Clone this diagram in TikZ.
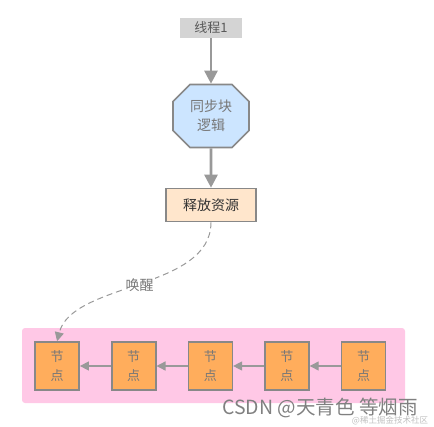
\documentclass[tikz,border=0pt]{standalone}
\usepackage{fontspec}
\setmainfont{Noto Sans CJK SC}
\usetikzlibrary{positioning, shapes.misc, arrows.meta}
\definecolor{lgray}{HTML}{999999}
\definecolor{bgray}{HTML}{888888}
\definecolor{tgray}{HTML}{777777}
\definecolor{thfill}{HTML}{D4D4D4}
\definecolor{synfill}{HTML}{CCE5FF}
\definecolor{relfill}{HTML}{FFE6CC}
\definecolor{knotfill}{HTML}{FFAD5C}
\definecolor{pinkbg}{HTML}{FFC8E6}

\begin{document}
\begin{tikzpicture}[x=1pt, y=-1pt,
     node distance = 31pt and 31pt,
        box/.style = {rectangle, draw=bgray, line width=1.6pt, fill=#1,
                     minimum width=90pt, minimum height=33pt, text=black!80,
                     font=\fontsize{14}{16}\selectfont},
       knot/.style = {rectangle, draw=bgray, line width=1.6pt, fill=knotfill,
                     minimum width=44pt, minimum height=48pt, align=center, inner sep=0pt,
                     text=tgray, font=\fontsize{13}{19}\selectfont},
       flow/.style = {draw=lgray, line width=2.6pt, -{Triangle[length=13pt,width=13pt]}},
       link/.style = {draw=lgray, line width=1.3pt, -{Triangle[length=9pt,width=9pt]}}
                        ]
\useasboundingbox (0,0) rectangle (434,426);
% background
\fill[pinkbg, rounded corners=3pt] (22,328) rectangle (405,403);
\node (thread) [rectangle, fill=thfill, minimum width=62pt, minimum height=20pt, inner sep=0pt,
                text=black!65, font=\fontsize{13}{15}\selectfont] at (211,28) {线程1};
\node (sync) [chamfered rectangle, chamfered rectangle xsep=10pt, chamfered rectangle ysep=7pt,
              draw=bgray, line width=1.6pt, fill=synfill, minimum width=76pt, minimum height=63pt,
              inner sep=0pt, align=center, text=tgray, font=\fontsize{14}{19}\selectfont]
              at (211,116) {同步块\\逻辑};
\node (rel) [box=relfill] at (211,205) {释放资源};
% chain of waiting nodes
\node (k5) [knot] at (363.5,366) {节\\点};
\node (k4) [knot, left=of k5] {节\\点};
\node (k3) [knot, left=of k4] {节\\点};
\node (k2) [knot, left=of k3] {节\\点};
\node (k1) [knot, left=of k2] {节\\点};
\draw[flow] (thread) to (sync);
\draw[flow] (sync) to (rel);
\draw[link] (k5) to (k4);
\draw[link] (k4) to (k3);
\draw[link] (k3) to (k2);
\draw[link] (k2) to (k1);
\draw[lgray, line width=1pt, dashed, dash pattern=on 6pt off 4pt, -{Triangle[length=9pt,width=9pt]}]
     (rel.south) .. controls (211,290) and (72,282) .. node[pos=0.5, fill=white, inner sep=1pt,
     text=tgray, font=\fontsize{14}{16}\selectfont] {唤醒} (k1.north);
% watermark
\node (mark) [text=black!50, font=\fontsize{19.5}{22}\selectfont] at (320,408) {CSDN @天青色 等烟雨};
\node (mark2) [text=black!25, font=\fontsize{8.5}{9}\selectfont] at (390,421) {@稀土掘金技术社区};
\end{tikzpicture}
\end{document}
